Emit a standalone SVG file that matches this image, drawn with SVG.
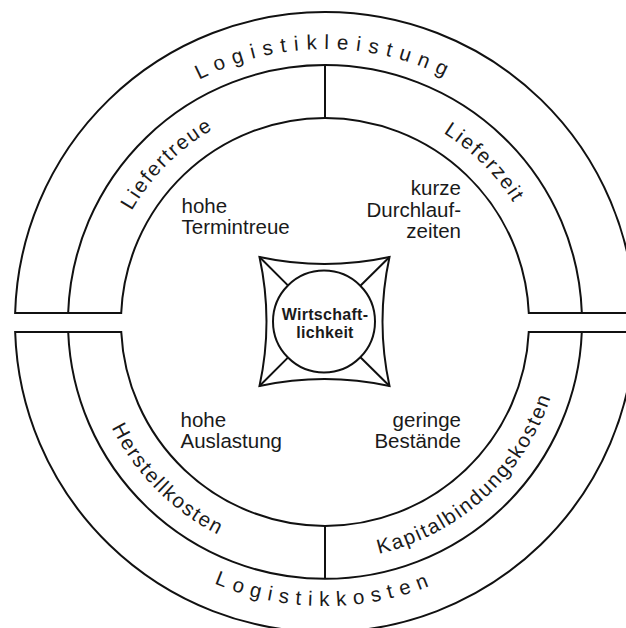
<svg xmlns="http://www.w3.org/2000/svg" width="626" height="628" viewBox="0 0 626 628">
<style>
.ln{fill:none;stroke:#111;stroke-width:2;}
.t{font-family:"Liberation Sans",Arial,sans-serif;font-size:20.5px;fill:#1a1a1a;}
.ring{letter-spacing:1.8px;}
.outerA{letter-spacing:7.6px;}
.outerB{letter-spacing:7px;}
.end{text-anchor:end;}
.c{font-family:"Liberation Sans",Arial,sans-serif;font-size:16px;font-weight:bold;fill:#1a1a1a;text-anchor:middle;letter-spacing:0.3px;}
</style>
<defs>
<path id="pTopOuter" d="M52,322 A273,273 0 0 1 598,322"/>
<path id="pBotOuter" d="M41,322 A284,284 0 0 0 609,322"/>
<path id="pTopMid" d="M102,322 A223,223 0 0 1 548,322"/>
<path id="pBotMid" d="M87,322 A238,238 0 0 0 563,322"/>
</defs>
<rect width="626" height="628" fill="#fff"/>
<g id="ring-top">
<path class="ln" d="M15.13,313 A310,310 0 0 1 634.87,313 L528.8,313 A204,204 0 0 0 121.2,313 Z"/>
<path class="ln" d="M68.16,313 A257,257 0 0 1 581.84,313"/>
<text class="t outerA"><textPath href="#pTopOuter" startOffset="50%" text-anchor="middle">Logistikleistung</textPath></text>
</g>
<g id="segment-liefertreue">
<text class="t ring"><textPath href="#pTopMid" startOffset="25%" text-anchor="middle">Liefertreue</textPath></text>
<text class="t" x="181.5" y="213.3">hohe</text>
<text class="t" x="181.5" y="234">Termintreue</text>
</g>
<g id="segment-lieferzeit">
<text class="t ring"><textPath href="#pTopMid" startOffset="75%" text-anchor="middle">Lieferzeit</textPath></text>
<text class="t end" x="461" y="195">kurze</text>
<text class="t end" x="461" y="216.5">Durchlauf-</text>
<text class="t end" x="461" y="237.7">zeiten</text>
</g>
<g id="ring-bottom">
<path class="ln" d="M15.16,332 A310,310 0 0 0 634.84,332 L528.75,332 A204,204 0 0 1 121.25,332 Z"/>
<path class="ln" d="M68.2,332 A257,257 0 0 0 581.8,332"/>
<text class="t outerB"><textPath href="#pBotOuter" startOffset="50%" text-anchor="middle">Logistikkosten</textPath></text>
</g>
<g id="segment-herstellkosten">
<text class="t ring"><textPath href="#pBotMid" startOffset="25%" text-anchor="middle">Herstellkosten</textPath></text>
<text class="t" x="180.5" y="426.7">hohe</text>
<text class="t" x="180.5" y="447.7">Auslastung</text>
</g>
<g id="segment-kapitalbindungskosten">
<text class="t ring"><textPath href="#pBotMid" startOffset="73.6%" text-anchor="middle">Kapitalbindungskosten</textPath></text>
<text class="t end" x="461" y="426.7">geringe</text>
<text class="t end" x="461" y="447.7">Bestände</text>
</g>
<g id="center-wirtschaftlichkeit">
<path class="ln" d="M259.5,257 Q324.5,271 389.5,257 Q375.5,321.5 389.5,386 Q324.5,372 259.5,386 Q273.5,321.5 259.5,257 Z"/>
<circle class="ln" cx="324" cy="321.5" r="51"/>
<text class="c" x="325" y="320">Wirtschaft-</text>
<text class="c" x="325" y="337.7">lichkeit</text>
</g>
<g id="connectors">
<path class="ln" d="M325,65 L325,118"/>
<path class="ln" d="M325,526 L325,579"/>
<path class="ln" d="M259.5,257 L287.9,285.4 M389.5,257 L360.4,285.7 M259.5,386 L287.9,357.6 M389.5,386 L360.4,357.3"/>
</g>
</svg>
